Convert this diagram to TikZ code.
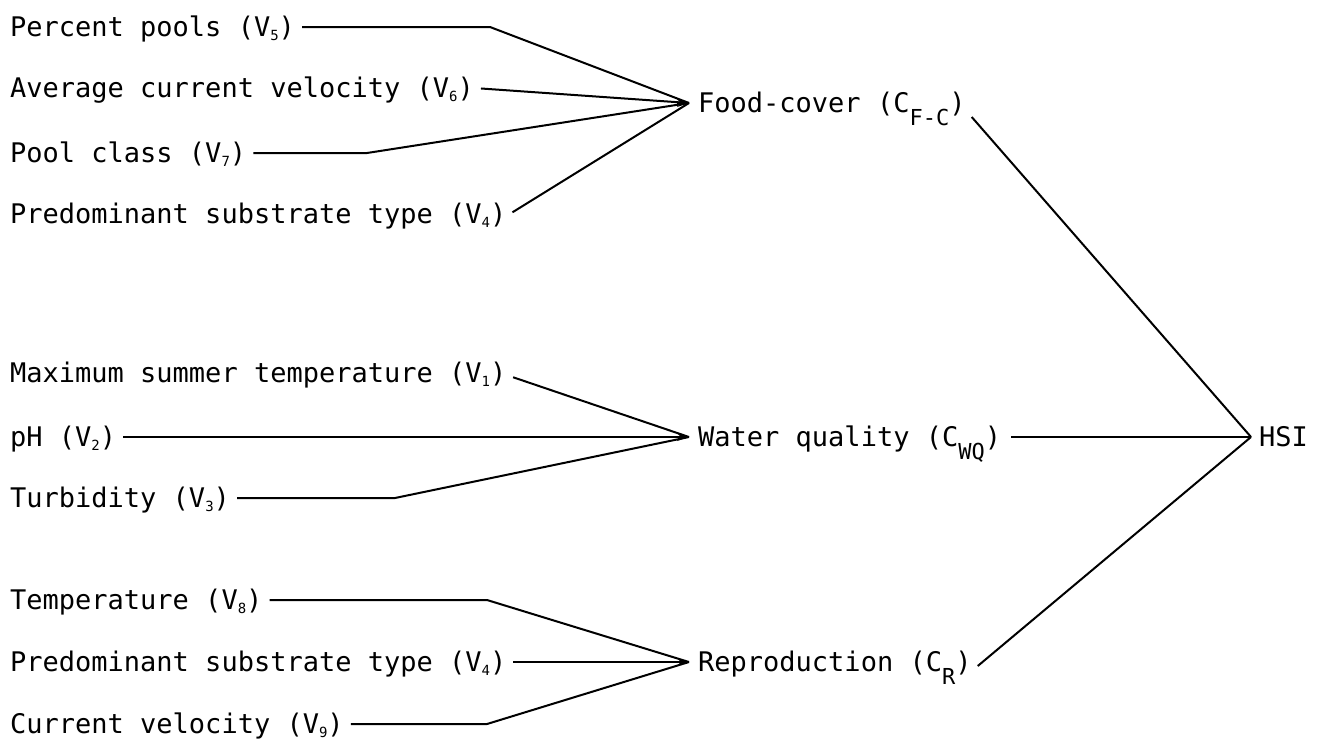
\documentclass[tikz,border=0pt]{standalone}
\usepackage{fontspec}
\setmainfont{DejaVu Sans Mono}
\usetikzlibrary{arrows.meta}
\newcommand{\vsb}[1]{\raisebox{-0.14em}{\fontsize{14}{14}\selectfont #1}}
\newcommand{\csb}[1]{\raisebox{-0.45em}{\fontsize{22}{22}\selectfont #1}}
\begin{document}
\begin{tikzpicture}[x=1pt,y=-1pt,
  lbl/.style={inner sep=0pt, text height=19.7pt, text depth=0pt, anchor=west,
    font=\fontsize{27}{30}\selectfont},
  wire/.style={line width=2pt, line join=miter},
  headtip/.style={-{Stealth[length=12pt,width=8pt]}}]
\useasboundingbox (0,0) rectangle (1324,744);
% left-hand variables
\node[lbl] (v5) at (10,27) {Percent pools (V\vsb{5})};
\node[lbl] (v6) at (10,88) {Average current velocity (V\vsb{6})};
\node[lbl] (v7) at (10,153) {Pool class (V\vsb{7})};
\node[lbl] (v4a) at (10,214) {Predominant substrate type (V\vsb{4})};
\node[lbl] (v1) at (10,373) {Maximum summer temperature (V\vsb{1})};
\node[lbl] (v2) at (10,437) {pH (V\vsb{2})};
\node[lbl] (v3) at (10,498) {Turbidity (V\vsb{3})};
\node[lbl] (v8) at (10,600) {Temperature (V\vsb{8})};
\node[lbl] (v4b) at (10,662) {Predominant substrate type (V\vsb{4})};
\node[lbl] (v9) at (10,724) {Current velocity (V\vsb{9})};
% components
\node[lbl] (fc) at (698,103) {Food-cover (C\csb{F-C})};
\node[lbl] (wq) at (698,437) {Water quality (C\csb{WQ})};
\node[lbl] (rp) at (698,662) {Reproduction (C\csb{R})};
\node[lbl] (hsi) at (1259,437) {HSI};
\coordinate (fcin) at (689,103);
\coordinate (wqin) at (689,437);
\coordinate (rpin) at (689,662);
\coordinate (hsin) at (1251,437);
% group 1
\draw[wire, shorten <=7pt] (v5.east) -- (490,27) -- (fcin);
\draw[wire, shorten <=7pt] (v6.east) -- (fcin);
\draw[wire, shorten <=7pt] (v7.east) -- (367,153) -- (fcin);
\draw[wire, shorten <=7pt] ([yshift=-2pt]v4a.east) -- (fcin);
\draw[wire, headtip] ([xshift=-12pt]fcin) -- (fcin);
% group 2
\draw[wire, shorten <=7pt] ([yshift=-2pt]v1.east) -- (wqin);
\draw[wire, shorten <=7pt] (v2.east) -- (wqin);
\draw[wire, shorten <=7pt] (v3.east) -- (395,498) -- (wqin);
\draw[wire, headtip] ([xshift=-12pt]wqin) -- (wqin);
% group 3
\draw[wire, shorten <=7pt] (v8.east) -- (487,600) -- (rpin);
\draw[wire, shorten <=7pt] (v4b.east) -- (rpin);
\draw[wire, shorten <=7pt] (v9.east) -- (487,724) -- (rpin);
\draw[wire, headtip] ([xshift=-12pt]rpin) -- (rpin);
% to HSI
\draw[wire] ([xshift=6pt,yshift=-14pt]fc.east) -- (hsin);
\draw[wire, shorten <=10pt] (wq.east) -- (hsin);
\draw[wire] ([xshift=6pt,yshift=-4pt]rp.east) -- (hsin);
\end{tikzpicture}
\end{document}
